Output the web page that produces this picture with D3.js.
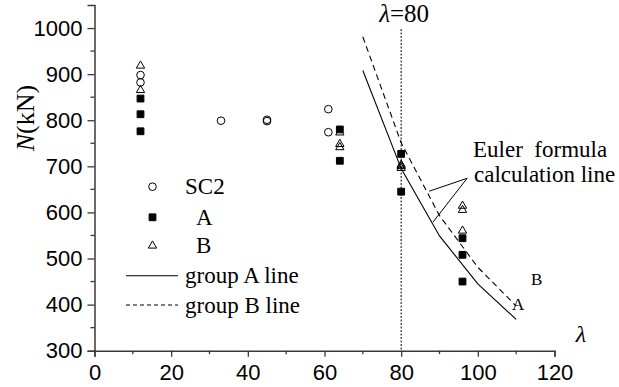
<!DOCTYPE html>
<html>
<head>
<meta charset="utf-8">
<script src="https://cdn.jsdelivr.net/npm/d3@7/dist/d3.min.js"></script>
<style>
  html, body { margin: 0; padding: 0; background: #fff; }
  svg { display: block; }
</style>
</head>
<body>
<svg id="chart" width="619" height="387"></svg>
<script>
// Slenderness ratio (λ) vs. bearing capacity N (kN)
const sc2Lambda = [12, 12, 33, 45, 45, 61, 61];
const sc2N      = [898, 882, 799, 798, 801, 824, 774];

const aLambda = [12, 12, 12, 64, 64, 80, 80, 96, 96, 96];
const aN      = [847, 813, 776, 780, 712, 727, 645, 544, 508, 450];

const bLambda = [12, 12, 64, 64, 64, 80, 80, 80, 96, 96, 96];
const bN      = [920, 867, 775, 750, 743, 705, 702, 698, 616, 607, 562];

// Euler formula calculation lines
const lineLambda = [70, 80, 90, 100, 110];
const lineA      = [908, 695, 549, 445, 368];
const lineB      = [981, 751, 593, 481, 397];

const xTicks = [0, 20, 40, 60, 80, 100, 120];
const yTicks = [300, 400, 500, 600, 700, 800, 900, 1000];

const svg = d3.select("#chart");
const x = d3.scaleLinear().domain([0, 120]).range([94.5, 554.5]);
const y = d3.scaleLinear().domain([300, 1050]).range([350.7, 5]);

const axisColor = "#3a3a3a";
const sans = "'Liberation Sans', Arial, sans-serif";
const serif = "'Liberation Serif', 'Times New Roman', serif";

// Axes
const xAxis = d3.axisBottom(x).tickValues(xTicks).tickSize(6).tickPadding(5).tickFormat(d3.format("d"));
const yAxis = d3.axisLeft(y).tickValues(yTicks).tickSize(7).tickPadding(5).tickFormat(d3.format("d"));

const gx = svg.append("g").attr("transform", `translate(0,${y(300)})`).call(xAxis);
const gy = svg.append("g").attr("transform", `translate(${x(0)},0)`).call(yAxis);
[gx, gy].forEach(g => {
  g.select(".domain").attr("stroke", axisColor).attr("stroke-width", 1.5);
  g.selectAll(".tick line").attr("stroke", axisColor).attr("stroke-width", 1.3);
  g.selectAll(".tick text").attr("fill", "#000").style("font-family", sans).style("font-size", "22px");
});
gx.selectAll(".tick text").attr("dy", "0.85em");

// Minor ticks
svg.append("g").selectAll("line").data(d3.range(10, 120, 20)).join("line")
  .attr("x1", d => x(d)).attr("x2", d => x(d))
  .attr("y1", y(300)).attr("y2", y(300) + 3.5)
  .attr("stroke", axisColor).attr("stroke-width", 1.3);
svg.append("g").selectAll("line").data(d3.range(350, 1050, 100)).join("line")
  .attr("x1", x(0)).attr("x2", x(0) - 4)
  .attr("y1", d => y(d)).attr("y2", d => y(d))
  .attr("stroke", axisColor).attr("stroke-width", 1.3);

// Serif text helper with optional italic runs
function serifText(parent, px, py, size, parts, anchor, transform) {
  const t = parent.append("text")
    .attr("font-family", serif).attr("font-size", size)
    .attr("text-anchor", anchor || "start");
  if (transform) t.attr("transform", transform); else t.attr("x", px).attr("y", py);
  parts.forEach(p => {
    t.append("tspan").attr("font-style", p.italic ? "italic" : "normal").text(p.text);
  });
  return t;
}

// Axis titles
serifText(svg, 0, 0, 26, [{ text: "N", italic: true }, { text: "(kN)" }], "middle",
  "translate(34,118) rotate(-90)");
serifText(svg, 581, 342, 24, [{ text: "λ", italic: true }], "middle");

// λ = 80 reference line
svg.append("line")
  .attr("x1", x(80)).attr("x2", x(80))
  .attr("y1", 29).attr("y2", y(300))
  .attr("stroke", "#000").attr("stroke-width", 1).attr("stroke-dasharray", "2,1.5");
serifText(svg, x(80) + 3, 22, 25, [{ text: "λ", italic: true }, { text: "=80" }], "middle");

// Euler lines
const line = d3.line().x(d => x(d[0])).y(d => y(d[1]));
svg.append("path")
  .datum(lineLambda.map((l, i) => [l, lineA[i]]))
  .attr("d", line).attr("fill", "none").attr("stroke", "#000").attr("stroke-width", 1.1);
svg.append("path")
  .datum(lineLambda.map((l, i) => [l, lineB[i]]))
  .attr("d", line).attr("fill", "none").attr("stroke", "#000").attr("stroke-width", 1.1)
  .attr("stroke-dasharray", "6,4");

// Line end labels
serifText(svg, 512, 310, 17, [{ text: "A" }]);
serifText(svg, 531, 285, 17, [{ text: "B" }]);

// Euler annotation
const annoFrom = [97.2, 674];
const annoTo = [[87.3, 646], [88.3, 579]];
svg.append("g").selectAll("line").data(annoTo).join("line")
  .attr("x1", x(annoFrom[0])).attr("y1", y(annoFrom[1]))
  .attr("x2", d => x(d[0])).attr("y2", d => y(d[1]))
  .attr("stroke", "#000").attr("stroke-width", 1);
serifText(svg, 473, 157, 23, [{ text: "Euler\u00a0 formula" }]);
serifText(svg, 474, 182, 23, [{ text: "calculation line" }]);

// Markers
const circleSym = d3.symbol().type(d3.symbolCircle).size(46);
const squareSym = d3.symbol().type(d3.symbolSquare).size(46);
const triSym = d3.symbol().type(d3.symbolTriangle).size(30);

function drawPoints(ls, ns, sym, filled, dy) {
  svg.append("g").selectAll("path").data(ls.map((l, i) => [l, ns[i]])).join("path")
    .attr("transform", d => `translate(${x(d[0])},${y(d[1]) + (dy || 0)})`)
    .attr("d", sym)
    .attr("fill", filled ? "#000" : "none")
    .attr("stroke", "#000").attr("stroke-width", 1);
}
drawPoints(sc2Lambda, sc2N, circleSym, false, 0);
drawPoints(aLambda, aN, squareSym, true, 0);
drawPoints(bLambda, bN, triSym, false, 0.8);

// Legend
const legend = svg.append("g");
const lx = 152.5;
const rows = [
  { y: 186.7, sym: circleSym, fill: "none", label: "SC2", tx: 185 },
  { y: 217.3, sym: squareSym, fill: "#000", label: "A", tx: 196 },
  { y: 245.7, sym: triSym, fill: "none", label: "B", tx: 196 }
];
rows.forEach(r => {
  legend.append("path").attr("transform", `translate(${lx},${r.y})`)
    .attr("d", r.sym).attr("fill", r.fill).attr("stroke", "#000").attr("stroke-width", 1);
  serifText(legend, r.tx, r.y + 7.5, 23, [{ text: r.label }]);
});
legend.append("line").attr("x1", 126).attr("x2", 178).attr("y1", 275.7).attr("y2", 275.7)
  .attr("stroke", "#000").attr("stroke-width", 1.1);
serifText(legend, 185, 283, 23, [{ text: "group A line" }]);
legend.append("line").attr("x1", 126).attr("x2", 178).attr("y1", 305).attr("y2", 305)
  .attr("stroke", "#000").attr("stroke-width", 1.1).attr("stroke-dasharray", "4,3");
serifText(legend, 185, 312.5, 23, [{ text: "group B line" }]);
</script>
</body>
</html>
